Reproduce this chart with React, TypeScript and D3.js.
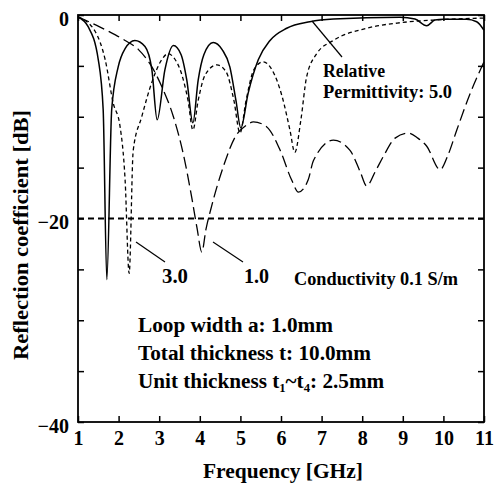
import React, { useRef, useEffect } from 'react';
import * as d3 from 'd3';

// frequency [GHz] / reflection [dB]
const epsFiveFreq = [1.0, 1.25, 1.5, 1.62, 1.71, 1.83, 1.99, 2.16, 2.4, 2.65, 2.82, 2.95, 3.14, 3.35, 3.54, 3.68, 3.83, 3.96, 4.1, 4.33, 4.55, 4.74, 4.89, 5.01, 5.19, 5.44, 5.73, 6.14, 6.71, 7.29, 8.93, 9.3, 9.59, 9.79, 10.0, 10.57, 10.82, 11.0];
const epsFiveDb = [-0.2, -1.15, -4.4, -9.3, -26.0, -9.3, -5.1, -3.3, -2.5, -3.1, -5.4, -10.3, -5.4, -3.0, -3.9, -6.4, -10.6, -6.4, -3.9, -2.7, -3.4, -5.1, -8.4, -11.1, -7.7, -4.4, -2.5, -1.3, -0.66, -0.4, -0.23, -0.4, -1.05, -0.5, -0.42, -0.42, -0.66, -1.5];

const epsThreeFreq = [1.0, 1.42, 1.67, 1.87, 2.03, 2.16, 2.26, 2.36, 2.57, 2.82, 3.06, 3.22, 3.36, 3.56, 3.71, 3.83, 3.96, 4.13, 4.42, 4.65, 4.84, 4.99, 5.14, 5.33, 5.56, 5.78, 6.02, 6.22, 6.34, 6.49, 6.63, 6.88, 7.29, 8.11, 8.93, 9.75, 11.0];
const epsThreeDb = [-0.2, -1.6, -4.4, -8.7, -10.8, -16.2, -25.4, -13.3, -10.0, -6.6, -4.4, -3.8, -4.2, -5.9, -8.4, -11.3, -8.4, -5.9, -4.9, -5.6, -8.4, -11.6, -8.4, -5.4, -4.6, -5.4, -7.9, -11.3, -13.5, -10.3, -6.1, -3.8, -2.5, -1.3, -0.76, -0.5, -0.3];

const epsOneFreq = [1.0, 1.34, 1.75, 2.16, 2.49, 2.82, 3.06, 3.35, 3.59, 3.8, 3.93, 4.05, 4.15, 4.29, 4.58, 4.87, 5.16, 5.32, 5.65, 5.98, 6.26, 6.43, 6.67, 6.8, 7.29, 7.7, 7.95, 8.11, 8.32, 8.52, 8.81, 9.14, 9.37, 9.59, 9.92, 10.11, 10.33, 10.66, 11.0];
const epsOneDb = [-0.17, -0.8, -1.6, -2.5, -3.4, -5.1, -7.0, -10.0, -13.6, -17.9, -20.9, -23.3, -21.1, -18.8, -14.9, -12.0, -10.8, -10.5, -11.0, -13.3, -16.2, -17.4, -16.2, -14.3, -12.3, -13.3, -15.4, -16.8, -15.4, -13.9, -12.1, -11.6, -12.1, -12.9, -15.2, -13.8, -11.3, -7.7, -4.6];

const xTicks = [1, 2, 3, 4, 5, 6, 7, 8, 9, 10, 11];
const yTicks = [0, -5, -10, -15, -20, -25, -30, -35, -40];
const yLabels = [0, -20, -40];
const threshold = -20;

const FONT = '"Liberation Serif", "Times New Roman", serif';

export default function App() {
  const svgRef = useRef<SVGSVGElement>(null);

  useEffect(() => {
    const svg = d3.select(svgRef.current);
    svg.selectAll('*').remove();

    const x = d3.scaleLinear().domain([1, 11]).range([78, 484]);
    const y = d3.scaleLinear().domain([-40, 0]).range([422, 15]);

    const g = svg.append('g').attr('font-family', FONT).attr('font-weight', 'bold');

    // curves
    const line = d3.line<[number, number]>()
      .x(d => x(d[0]))
      .y(d => y(d[1]))
      .curve(d3.curveMonotoneX);

    const series = [
      { f: epsOneFreq, v: epsOneDb, dash: '12,5', w: 1.3 },
      { f: epsThreeFreq, v: epsThreeDb, dash: '4,3', w: 1.3 },
      { f: epsFiveFreq, v: epsFiveDb, dash: null, w: 1.5 },
    ];
    series.forEach(s => {
      g.append('path')
        .datum(s.f.map((f, i) => [f, s.v[i]] as [number, number]))
        .attr('d', line)
        .attr('fill', 'none')
        .attr('stroke', '#000')
        .attr('stroke-width', s.w)
        .attr('stroke-dasharray', s.dash);
    });

    // -20 dB line
    g.append('line')
      .attr('x1', x(1)).attr('x2', x(11))
      .attr('y1', y(threshold)).attr('y2', y(threshold))
      .attr('stroke', '#000')
      .attr('stroke-width', 2)
      .attr('stroke-dasharray', '6,4');

    // axes, ticks inward
    const bottom = g.append('g')
      .attr('transform', 'translate(0,' + y(-40) + ')')
      .call(d3.axisBottom(x).tickValues(xTicks).tickSizeInner(-6).tickSizeOuter(0).tickPadding(9).tickFormat(d3.format('d')));
    const top = g.append('g')
      .attr('transform', 'translate(0,' + y(0) + ')')
      .call(d3.axisTop(x).tickValues(xTicks).tickSizeInner(-6).tickSizeOuter(0).tickFormat(() => ''));
    const left = g.append('g')
      .attr('transform', 'translate(' + x(1) + ',0)')
      .call(d3.axisLeft(y).tickValues(yTicks).tickSizeInner(-6).tickSizeOuter(0)
        .tickFormat(d => (yLabels.includes(+d) ? (+d < 0 ? '\u2212' + Math.abs(+d) : String(d)) : '')));
    const right = g.append('g')
      .attr('transform', 'translate(' + x(11) + ',0)')
      .call(d3.axisRight(y).tickValues(yTicks).tickSizeInner(-6).tickSizeOuter(0).tickFormat(() => ''));

    [bottom, top, left, right].forEach(a => {
      a.select('.domain').remove();
      a.selectAll('line').attr('stroke', '#000').attr('stroke-width', 1.5);
      a.selectAll('text').attr('font-family', FONT).attr('font-size', 20).attr('font-weight', 'bold').attr('fill', '#000');
    });
    left.selectAll('text').attr('x', -9).attr('dy', '0.5em');

    g.append('rect')
      .attr('x', x(1)).attr('y', y(0))
      .attr('width', x(11) - x(1)).attr('height', y(-40) - y(0))
      .attr('fill', 'none').attr('stroke', '#000').attr('stroke-width', 1.8);

    // axis titles
    g.append('text')
      .attr('x', 203).attr('y', 478)
      .attr('font-size', 20)
      .attr('textLength', 160).attr('lengthAdjust', 'spacingAndGlyphs')
      .text('Frequency [GHz]');
    g.append('text')
      .attr('transform', 'translate(28,360) rotate(-90)')
      .attr('font-size', 20)
      .attr('textLength', 250).attr('lengthAdjust', 'spacingAndGlyphs')
      .text('Reflection coefficient [dB]');

    // annotations
    const leaders = [
      [312, 21, 342, 57],
      [136, 242, 165, 262],
      [213, 242, 243, 262],
    ];
    leaders.forEach(l => {
      g.append('line')
        .attr('x1', l[0]).attr('y1', l[1]).attr('x2', l[2]).attr('y2', l[3])
        .attr('stroke', '#000').attr('stroke-width', 1.2);
    });

    const notes = [
      { t: 'Relative', x: 323, y: 77, s: 18, w: 62 },
      { t: 'Permittivity: 5.0', x: 323, y: 98, s: 18, w: 129 },
      { t: '3.0', x: 162, y: 283, s: 20, w: 26 },
      { t: '1.0', x: 244, y: 283, s: 20, w: 25 },
      { t: 'Conductivity 0.1 S/m', x: 294, y: 285, s: 18, w: 164 },
      { t: 'Loop width a: 1.0mm', x: 138, y: 332, s: 20, w: 195 },
      { t: 'Total thickness t: 10.0mm', x: 138, y: 360, s: 20, w: 233 },
    ];
    notes.forEach(n => {
      g.append('text')
        .attr('x', n.x).attr('y', n.y)
        .attr('font-size', n.s)
        .attr('textLength', n.w).attr('lengthAdjust', 'spacingAndGlyphs')
        .text(n.t);
    });

    const unit = g.append('text')
      .attr('x', 138).attr('y', 388)
      .attr('font-size', 20)
      .attr('transform', 'translate(138,388) scale(1.06,1) translate(-138,-388)');
    unit.append('tspan').text('Unit thickness t');
    unit.append('tspan').attr('font-size', 12).attr('dy', 4).text('1');
    unit.append('tspan').attr('dy', -4).text('~t');
    unit.append('tspan').attr('font-size', 12).attr('dy', 4).text('4');
    unit.append('tspan').attr('dy', -4).text(': 2.5mm');
  }, []);

  return (
    <svg ref={svgRef} width={495} height={485}
      style={{ position: 'absolute', left: 0, top: 0, background: '#fff' }} />
  );
}
